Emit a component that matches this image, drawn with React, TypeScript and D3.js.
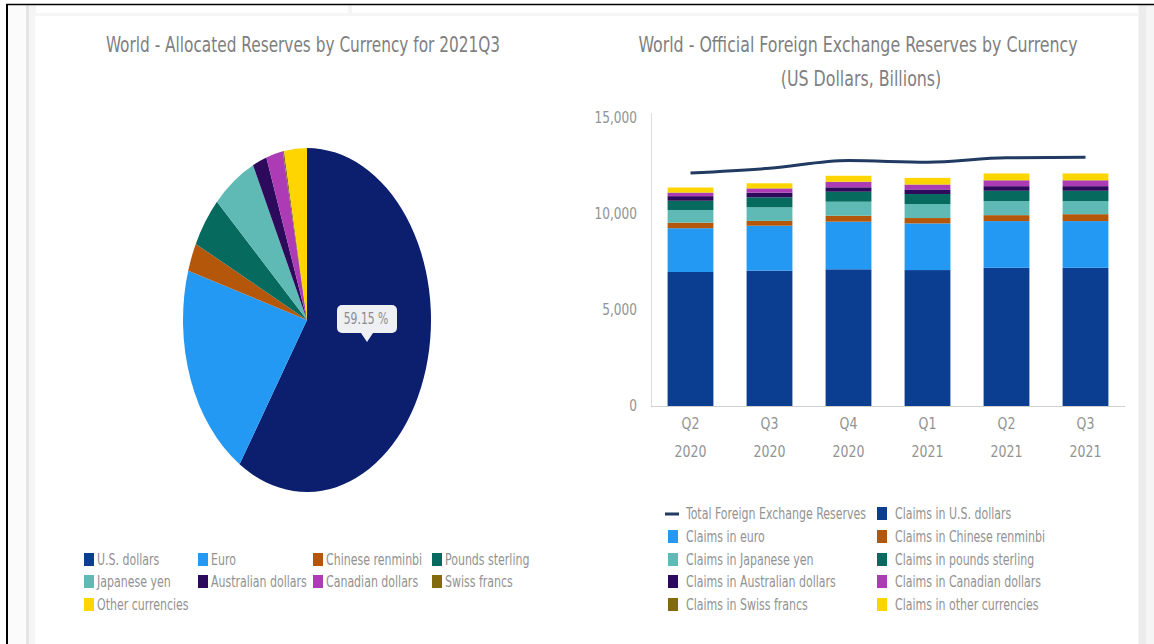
import * as d3 from "d3";

// pie: world allocated reserves, 2021Q3 (percent)
const pieLabels = [
  "U.S. dollars",
  "Euro",
  "Chinese renminbi",
  "Pounds sterling",
  "Japanese yen",
  "Australian dollars",
  "Canadian dollars",
  "Swiss francs",
  "Other currencies",
];
const pieShares = [59.15, 20.48, 2.66, 4.78, 5.76, 1.86, 2.18, 0.17, 2.96];
const pieColors = ["#0c1f6e", "#2399f4", "#b5570b", "#066a5f", "#5fbab5", "#2e0a5c", "#ad3bb5", "#836a0e", "#ffd500"];
const pieLegendColors = ["#0b3d91", "#2399f4", "#b5570b", "#066a5f", "#5fbab5", "#2e0a5c", "#ad3bb5", "#836a0e", "#ffd500"];

// bars: official FX reserves, US$ billions
const quarters = ["Q2", "Q3", "Q4", "Q1", "Q2", "Q3"];
const years = ["2020", "2020", "2020", "2021", "2021", "2021"];
const totalReserves = [12130, 12380, 12780, 12700, 12930, 12950];
const usd = [6980, 7050, 7120, 7080, 7200, 7200];
const eur = [2280, 2340, 2480, 2430, 2430, 2430];
const cny = [290, 250, 310, 280, 310, 360];
const jpy = [660, 710, 730, 730, 730, 680];
const gbp = [480, 520, 520, 520, 540, 540];
const aud = [240, 240, 230, 240, 240, 240];
const cad = [175, 215, 275, 245, 295, 295];
const chf = [15, 15, 17, 15, 17, 17];
const other = [260, 260, 310, 340, 350, 350];
const yTicks = [0, 5000, 10000, 15000];

const barSeries = [
  { name: "Claims in U.S. dollars", values: usd, color: "#0b3d91" },
  { name: "Claims in euro", values: eur, color: "#2399f4" },
  { name: "Claims in Chinese renminbi", values: cny, color: "#b5570b" },
  { name: "Claims in Japanese yen", values: jpy, color: "#5fbab5" },
  { name: "Claims in pounds sterling", values: gbp, color: "#066a5f" },
  { name: "Claims in Australian dollars", values: aud, color: "#2e0a5c" },
  { name: "Claims in Canadian dollars", values: cad, color: "#ad3bb5" },
  { name: "Claims in Swiss francs", values: chf, color: "#836a0e" },
  { name: "Claims in other currencies", values: other, color: "#ffd500" },
];
const rightLegend = [
  "Total Foreign Exchange Reserves",
  "Claims in U.S. dollars",
  "Claims in euro",
  "Claims in Chinese renminbi",
  "Claims in Japanese yen",
  "Claims in pounds sterling",
  "Claims in Australian dollars",
  "Claims in Canadian dollars",
  "Claims in Swiss francs",
  "Claims in other currencies",
];

const FONT = "'DejaVu Sans Condensed', 'DejaVu Sans', sans-serif";
const TEXT = "#929292";
const LINE = "#213a62";

// narrow text: the source font is much more condensed than anything installed
const T = ({
  x,
  y,
  size,
  sx,
  anchor = "start",
  fill = TEXT,
  children,
}: {
  x: number;
  y: number;
  size: number;
  sx: number;
  anchor?: string;
  fill?: string;
  children: React.ReactNode;
}) => (
  <text transform={`translate(${x},${y}) scale(${sx},1)`} textAnchor={anchor} fontSize={size} fill={fill}>
    {children}
  </text>
);

const App = () => {
  // pie
  const cx = 307;
  const cy = 320;
  const rx = 124;
  const ry = 172;
  const pie = d3.pie<number>().sort(null).value((d) => d)(pieShares);
  const arc = d3.arc<d3.PieArcDatum<number>>().innerRadius(0).outerRadius(rx);

  // bars
  const x = d3
    .scaleBand<number>()
    .domain(d3.range(quarters.length))
    .range([651, 1125])
    .paddingInner(0.42)
    .paddingOuter(0.21);
  const y = d3.scaleLinear().domain([0, 15000]).range([406, 118]);

  const rows = d3.range(quarters.length).map((i) => {
    const r: { [k: string]: number } = {};
    barSeries.forEach((s) => (r[s.name] = s.values[i]));
    return r;
  });
  const stack = d3.stack<{ [k: string]: number }>().keys(barSeries.map((s) => s.name))(rows);

  const line = d3
    .line<number>()
    .x((_, i) => x(i)! + x.bandwidth() / 2)
    .y((d) => y(d))
    .curve(d3.curveMonotoneX);

  const pieCols = [84, 198, 313, 432];
  const pieRows = [560, 582, 605];

  return (
    <svg
      width={1154}
      height={644}
      style={{ position: "fixed", left: 0, top: 0, background: "#fff" }}
      fontFamily={FONT}
    >
      {/* page frame */}
      <rect x={8} y={5} width={1146} height={639} fill="#f5f5f5" />
      <rect x={8} y={5} width={18} height={639} fill="#fbfbfb" />
      <rect x={26} y={5} width={3} height={639} fill="#e4e4e4" />
      <rect x={36} y={5} width={312} height={8} fill="#fff" />
      <rect x={352} y={5} width={786} height={8} fill="#fff" />
      <rect x={35} y={16} width={1103} height={628} fill="#fff" />
      <rect x={1139} y={5} width={7} height={639} fill="#ececec" />
      <line x1={6} x2={1154} y1={4.5} y2={4.5} stroke="#000" strokeWidth={1.5} />
      <line x1={7} x2={7} y1={4} y2={644} stroke="#000" strokeWidth={2} />

      {/* pie chart */}
      <T x={303} y={52} size={22} sx={0.775} anchor="middle" fill="#7f7f7f">
        World - Allocated Reserves by Currency for 2021Q3
      </T>
      <g transform={`translate(${cx},${cy}) scale(1,${ry / rx})`}>
        {pie.map((p, i) => (
          <path key={i} d={arc(p)!} fill={pieColors[i]} />
        ))}
      </g>
      <g>
        <rect x={337} y={305} width={60} height={28} rx={5} fill="#eef0f4" />
        <path d="M361,333 L367,342 L373,333 Z" fill="#eef0f4" />
        <T x={366} y={324} size={15} sx={0.8} anchor="middle" fill="#8c8c8c">
          59.15 %
        </T>
      </g>
      {pieLabels.map((name, i) => {
        const lx = pieCols[i % 4];
        const ly = pieRows[Math.floor(i / 4)];
        return (
          <g key={name}>
            <rect x={lx} y={ly - 7} width={10} height={13} fill={pieLegendColors[i]} />
            <T x={lx + 13} y={ly + 5} size={15} sx={0.815}>
              {name}
            </T>
          </g>
        );
      })}

      {/* bar chart */}
      <T x={858} y={52} size={22} sx={0.8} anchor="middle" fill="#7f7f7f">
        World - Official Foreign Exchange Reserves by Currency
      </T>
      <T x={861} y={86} size={22} sx={0.8} anchor="middle" fill="#7f7f7f">
        (US Dollars, Billions)
      </T>
      <line x1={651.5} x2={651.5} y1={113} y2={406} stroke="#dcdcdc" />
      {yTicks.map((t) => (
        <T key={t} x={637} y={y(t) + 5} size={15} sx={0.9} anchor="end">
          {d3.format(",")(t)}
        </T>
      ))}
      {stack.map((layer, si) => (
        <g key={layer.key} fill={barSeries[si].color}>
          {layer.map((d, i) => (
            <rect key={i} x={x(i)} y={y(d[1])} width={x.bandwidth()} height={y(d[0]) - y(d[1])} />
          ))}
        </g>
      ))}
      <line x1={651} x2={1125} y1={406.5} y2={406.5} stroke="#d0d0d0" />
      <path d={line(totalReserves)!} fill="none" stroke={LINE} strokeWidth={3} />
      {quarters.map((q, i) => (
        <g key={i}>
          <T x={x(i)! + x.bandwidth() / 2} y={429} size={15} sx={0.93} anchor="middle">
            {q}
          </T>
          <T x={x(i)! + x.bandwidth() / 2} y={457} size={15} sx={0.93} anchor="middle">
            {years[i]}
          </T>
        </g>
      ))}
      {rightLegend.map((name, i) => {
        const lx = i % 2 === 0 ? 668 : 877;
        const ly = [514, 537, 560, 582, 605][Math.floor(i / 2)];
        const s = barSeries.find((b) => b.name === name);
        return (
          <g key={name}>
            {i === 0 ? (
              <rect x={lx - 3} y={ly - 1.5} width={14} height={3} fill={LINE} />
            ) : (
              <rect x={lx} y={ly - 7} width={10} height={13} fill={s!.color} />
            )}
            <T x={lx + 18} y={ly + 5} size={15} sx={0.815}>
              {name}
            </T>
          </g>
        );
      })}
    </svg>
  );
};

export default App;
